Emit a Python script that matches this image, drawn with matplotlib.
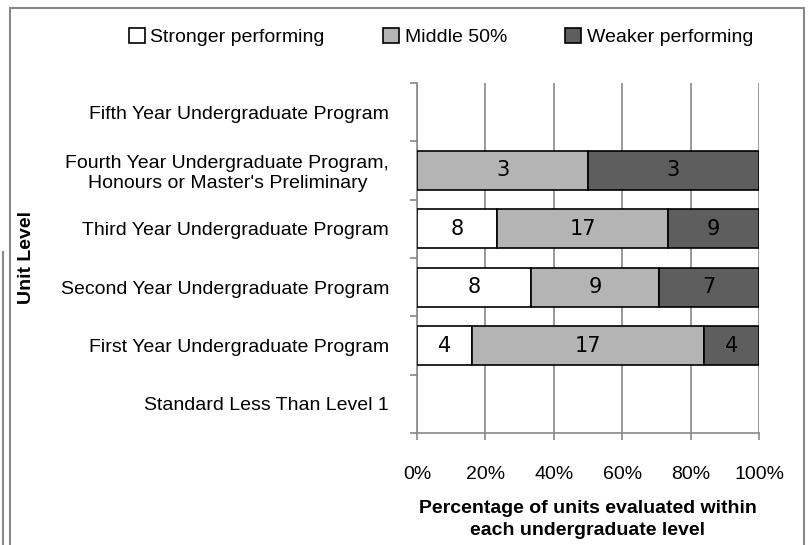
import matplotlib.pyplot as plt
import numpy as np
from matplotlib.patches import Patch, Rectangle
from matplotlib.lines import Line2D

# unit levels, bottom to top
levels = [
    "Standard Less Than Level 1",
    "First Year Undergraduate Program",
    "Second Year Undergraduate Program",
    "Third Year Undergraduate Program",
    "Fourth Year Undergraduate Program,\nHonours or Master's Preliminary",
    "Fifth Year Undergraduate Program",
]
stronger = [0, 4, 8, 8, 0, 0]
middle = [0, 17, 9, 17, 3, 0]
weaker = [0, 4, 7, 9, 3, 0]
series_names = ["Stronger performing", "Middle 50%", "Weaker performing"]
series_colors = ["#ffffff", "#b4b4b4", "#5e5e5e"]

plt.rcParams['font.family'] = ['Liberation Sans Narrow', 'Liberation Sans', 'DejaVu Sans']

counts = np.array([stronger, middle, weaker], dtype=float)
totals = counts.sum(axis=0)
pct = np.divide(counts * 100, totals, out=np.zeros_like(counts), where=totals > 0)

fig = plt.figure(figsize=(8.11, 5.45), dpi=100)
ax = fig.add_axes([417 / 811, 1 - 433 / 545, 342 / 811, 350 / 545])

ypos = np.arange(len(levels)) + 0.5
left = np.zeros(len(levels))
for i in range(3):
    keep = counts[i] > 0
    ax.barh(ypos[keep], pct[i][keep], left=left[keep], height=0.67,
            color=series_colors[i], edgecolor='black', linewidth=1.2, zorder=3)
    for j in np.where(keep)[0]:
        ax.text(left[j] + pct[i, j] / 2, ypos[j], f"{int(counts[i, j])}",
                ha='center', va='center', fontsize=15, family='DejaVu Sans',
                zorder=4)
    left = left + pct[i]

ax.set_xlim(0, 100)
ax.set_ylim(0, len(levels))
ax.set_xticks(np.arange(0, 101, 20))
ax.set_xticklabels([f"{v}%" for v in range(0, 101, 20)], fontsize=14)
ax.tick_params(axis='x', length=5, color='#888888', width=1.2, pad=19)
ax.xaxis.grid(True, color='#888888', linewidth=1.2, zorder=0)

ax.set_yticks(ypos)
ax.set_yticklabels(levels, fontsize=14, multialignment='center')
ax.set_yticks(np.arange(0, len(levels) + 1), minor=True)
ax.tick_params(axis='y', which='major', length=0, pad=20)
ax.tick_params(axis='y', which='minor', length=5, color='#888888', width=1.2)

for s in ['top', 'right']:
    ax.spines[s].set_visible(False)
for s in ['left', 'bottom']:
    ax.spines[s].set_color('#888888')
    ax.spines[s].set_linewidth(1.2)

ax.set_xlabel("Percentage of units evaluated within\neach undergraduate level",
              fontsize=14, fontweight='bold', labelpad=12, linespacing=1.35)
fig.text(27 / 811, 1 - 258 / 545, "Unit Level", rotation=90, ha='center',
         va='center', fontsize=14, fontweight='bold')

handles = [Patch(facecolor=c, edgecolor='black', linewidth=1.2) for c in series_colors]
fig.legend(handles, series_names, loc='center', bbox_to_anchor=(441 / 811, 1 - 37 / 545),
           ncol=3, frameon=False, fontsize=14, handlelength=0.8, handleheight=0.8,
           handletextpad=0.3, columnspacing=3.0)

# outer chart frame
fig.patches.append(Rectangle((10 / 811, -0.05), 794 / 811, 1.05 - 8 / 545,
                             transform=fig.transFigure, fill=False,
                             edgecolor='#888888', linewidth=1.5))
fig.lines.append(Line2D([3 / 811, 3 / 811], [0, 1 - 252 / 545],
                        transform=fig.transFigure, color='#888888', linewidth=1.5))

fig.savefig('out.png', dpi=100)
